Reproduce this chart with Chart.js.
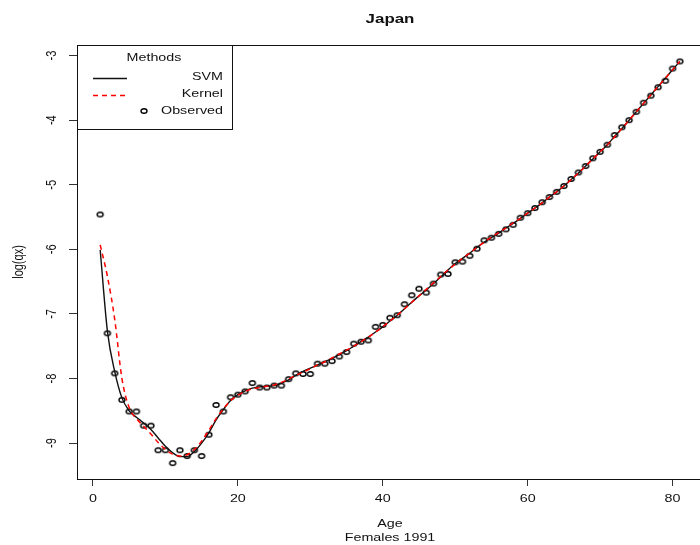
<!DOCTYPE html>
<html>
<head>
<meta charset="utf-8">
<script src="https://cdn.jsdelivr.net/npm/chart.js@4.4.0/dist/chart.umd.min.js"></script>
<style>
    html, body { margin: 0; padding: 0; background: #fff; overflow: hidden; }
    #wrap { width: 710px; height: 545px; }
</style>
</head>
<body>
<div id="wrap"><canvas id="mortChart" width="710" height="545"></canvas></div>
<script>
// Japan, females 1991: log death rates by single year of age
const ages = [
    1, 2, 3, 4, 5, 6, 7, 8, 9, 10, 11, 12, 13, 14, 15, 16, 17, 18, 19, 20,
    21, 22, 23, 24, 25, 26, 27, 28, 29, 30, 31, 32, 33, 34, 35, 36, 37, 38, 39, 40,
    41, 42, 43, 44, 45, 46, 47, 48, 49, 50, 51, 52, 53, 54, 55, 56, 57, 58, 59, 60,
    61, 62, 63, 64, 65, 66, 67, 68, 69, 70, 71, 72, 73, 74, 75, 76, 77, 78, 79, 80, 81
];

const observed = [
    -5.46, -7.30, -7.92, -8.33, -8.51, -8.51, -8.73, -8.73, -9.11, -9.11,
    -9.31, -9.11, -9.20, -9.11, -9.20, -8.87, -8.41, -8.51, -8.29, -8.25,
    -8.20, -8.07, -8.14, -8.14, -8.11, -8.11, -8.01, -7.92, -7.93, -7.93,
    -7.77, -7.77, -7.73, -7.66, -7.59, -7.46, -7.43, -7.41, -7.20, -7.17,
    -7.06, -7.02, -6.85, -6.71, -6.61, -6.67, -6.53, -6.39, -6.38, -6.20,
    -6.19, -6.10, -5.99, -5.86, -5.82, -5.76, -5.69, -5.62, -5.51, -5.44,
    -5.36, -5.27, -5.19, -5.11, -5.02, -4.91, -4.81, -4.71, -4.59, -4.49,
    -4.38, -4.23, -4.11, -4.00, -3.87, -3.73, -3.62, -3.49, -3.39, -3.20, -3.09
];

const svmFit = [
    -6.01, -7.27, -7.89, -8.30, -8.50, -8.60, -8.69, -8.79, -8.92, -9.05,
    -9.15, -9.21, -9.21, -9.13, -9.00, -8.84, -8.64, -8.48, -8.34, -8.25,
    -8.19, -8.15, -8.13, -8.12, -8.11, -8.07, -8.02, -7.95, -7.89, -7.84,
    -7.79, -7.74, -7.69, -7.63, -7.57, -7.50, -7.43, -7.36, -7.28, -7.20,
    -7.11, -7.02, -6.92, -6.82, -6.72, -6.63, -6.53, -6.43, -6.32, -6.22,
    -6.14, -6.06, -5.97, -5.89, -5.82, -5.75, -5.67, -5.60, -5.52, -5.44,
    -5.36, -5.28, -5.19, -5.11, -5.02, -4.92, -4.82, -4.71, -4.60, -4.49,
    -4.38, -4.25, -4.13, -4.00, -3.87, -3.74, -3.61, -3.48, -3.35, -3.22, -3.09
];

const kernelFit = [
    -5.93, -6.42, -7.08, -8.00, -8.45, -8.62, -8.74, -8.86, -8.99, -9.10,
    -9.17, -9.20, -9.18, -9.10, -8.97, -8.80, -8.62, -8.47, -8.34, -8.26,
    -8.20, -8.16, -8.14, -8.12, -8.10, -8.06, -8.01, -7.95, -7.90, -7.85,
    -7.79, -7.74, -7.68, -7.62, -7.56, -7.50, -7.43, -7.36, -7.28, -7.20,
    -7.11, -7.02, -6.92, -6.82, -6.72, -6.62, -6.52, -6.42, -6.32, -6.23,
    -6.14, -6.06, -5.97, -5.89, -5.81, -5.74, -5.67, -5.59, -5.52, -5.44,
    -5.36, -5.28, -5.19, -5.11, -5.02, -4.92, -4.82, -4.71, -4.60, -4.49,
    -4.38, -4.26, -4.13, -4.00, -3.87, -3.74, -3.61, -3.48, -3.35, -3.22, -3.09
];

const xTicks = [0, 20, 40, 60, 80];
const xTickLabels = ['0', '20', '40', '60', '80'];
const yTicks = [-9, -8, -7, -6, -5, -4, -3];
const yTickLabels = ['-9', '-8', '-7', '-6', '-5', '-4', '-3'];

const FONT = "'Liberation Sans', Arial, sans-serif";
const SX = 1.3; // text is drawn a little wide

const toXY = (vals) => ages.map((a, i) => ({ x: a, y: vals[i] }));

// open "o" marker, slightly wider than tall
const marker = document.createElement('canvas');
marker.width = 10;
marker.height = 8;
(() => {
    const m = marker.getContext('2d');
    m.strokeStyle = '#000';
    m.lineWidth = 1.4;
    m.beginPath();
    m.ellipse(5, 4, 3, 2.3, 0, 0, Math.PI * 2);
    m.stroke();
})();

function wideText(ctx, text, x, y, align, rotate) {
    ctx.save();
    ctx.translate(x, y);
    ctx.scale(SX, 1);
    if (rotate) ctx.rotate(-Math.PI / 2);
    ctx.textAlign = align;
    ctx.textBaseline = 'middle';
    ctx.fillText(text, 0, 0);
    ctx.restore();
}

const decorations = {
    id: 'decorations',
    afterDraw: (chart) => {
        const ctx = chart.ctx;
        const area = chart.chartArea;
        const xs = chart.scales.x;
        const ys = chart.scales.y;

        ctx.save();
        ctx.strokeStyle = '#111';
        ctx.lineWidth = 1;
        ctx.strokeRect(area.left + 0.5, area.top + 0.5, area.right - area.left, area.bottom - area.top);

        ctx.fillStyle = '#111';
        ctx.font = '11px ' + FONT;
        xTicks.forEach((v, i) => wideText(ctx, xTickLabels[i], xs.getPixelForValue(v), 499, 'center', false));
        yTicks.forEach((v, i) => wideText(ctx, yTickLabels[i], 52, ys.getPixelForValue(v), 'center', true));

        const midX = (area.left + area.right) / 2;
        wideText(ctx, 'Age', midX, 524, 'center', false);
        wideText(ctx, 'Females 1991', midX, 538, 'center', false);
        wideText(ctx, 'log(qx)', 19, (area.top + area.bottom) / 2, 'center', true);

        ctx.font = 'bold 13px ' + FONT;
        wideText(ctx, 'Japan', midX, 19, 'center', false);

        // legend
        ctx.fillStyle = '#fff';
        ctx.fillRect(area.left + 1, area.top + 1, 154, 83);
        ctx.strokeStyle = '#111';
        ctx.strokeRect(area.left + 0.5, area.top + 0.5, 155, 84);
        ctx.fillStyle = '#111';
        ctx.font = '11px ' + FONT;
        wideText(ctx, 'Methods', 154, 58, 'center', false);
        wideText(ctx, 'SVM', 223, 77, 'right', false);
        wideText(ctx, 'Kernel', 223, 94, 'right', false);
        wideText(ctx, 'Observed', 223, 111, 'right', false);

        ctx.lineWidth = 1.3;
        ctx.beginPath();
        ctx.moveTo(93, 78.5);
        ctx.lineTo(127, 78.5);
        ctx.stroke();
        ctx.strokeStyle = '#ff0000';
        ctx.setLineDash([5, 4]);
        ctx.beginPath();
        ctx.moveTo(93, 95.5);
        ctx.lineTo(128, 95.5);
        ctx.stroke();
        ctx.setLineDash([]);
        ctx.drawImage(marker, 139, 107);
        ctx.restore();
    }
};

// datasets listed first are painted last, so Kernel sits on top
new Chart(document.getElementById('mortChart'), {
    type: 'scatter',
    data: {
        datasets: [
            {
                label: 'Kernel',
                data: toXY(kernelFit),
                showLine: true,
                borderColor: '#ff0000',
                borderWidth: 1.5,
                borderDash: [5, 4],
                pointRadius: 0,
                cubicInterpolationMode: 'monotone'
            },
            {
                label: 'SVM',
                data: toXY(svmFit),
                showLine: true,
                borderColor: '#111',
                borderWidth: 1.4,
                pointRadius: 0,
                cubicInterpolationMode: 'monotone'
            },
            {
                label: 'Observed',
                data: toXY(observed),
                showLine: false,
                pointStyle: marker,
                pointRadius: 4,
                pointHoverRadius: 4
            }
        ]
    },
    options: {
        responsive: false,
        animation: false,
        events: [],
        layout: { padding: { top: 45, right: 7, bottom: 0, left: 0 } },
        plugins: {
            legend: { display: false },
            tooltip: { enabled: false }
        },
        scales: {
            x: {
                type: 'linear',
                min: -2.2,
                max: 84.2,
                afterBuildTicks: (s) => { s.ticks = xTicks.map(v => ({ value: v })); },
                afterFit: (s) => { s.height = 66; },
                ticks: { display: false },
                border: { display: false },
                grid: { drawOnChartArea: false, drawTicks: true, tickLength: 7, color: '#333', lineWidth: 1 }
            },
            y: {
                type: 'linear',
                min: -9.556,
                max: -2.836,
                afterBuildTicks: (s) => { s.ticks = yTicks.map(v => ({ value: v })); },
                afterFit: (s) => { s.width = 77; },
                ticks: { display: false },
                border: { display: false },
                grid: { drawOnChartArea: false, drawTicks: true, tickLength: 8, color: '#333', lineWidth: 1 }
            }
        }
    },
    plugins: [decorations]
});
</script>
</body>
</html>
